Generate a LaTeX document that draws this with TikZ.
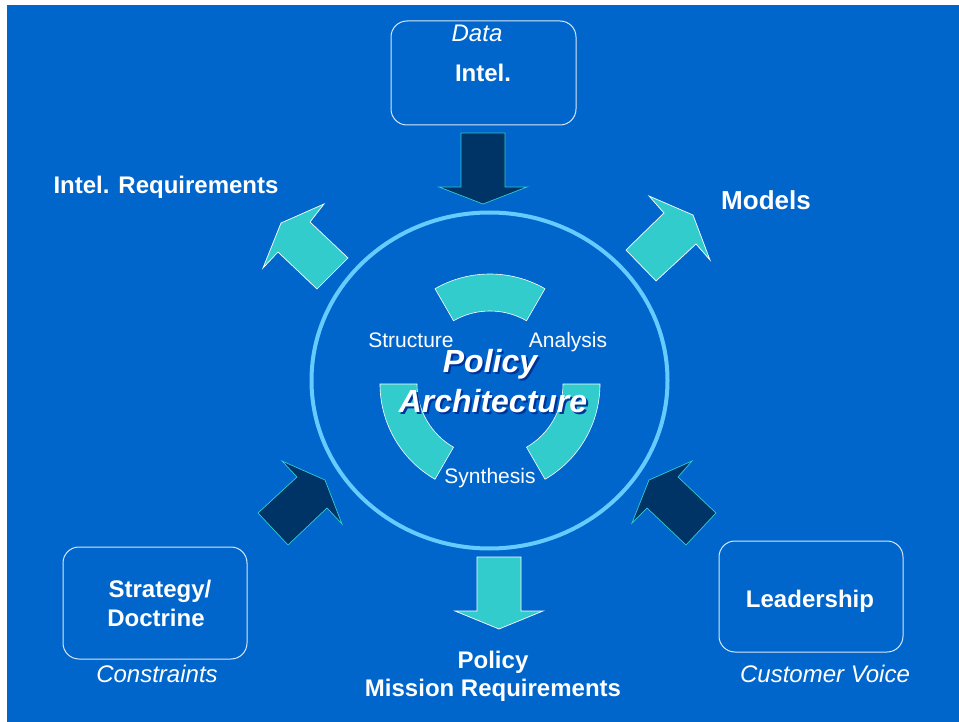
\documentclass[tikz,border=0pt]{standalone}
\usepackage{fontspec}
\setmainfont{Liberation Sans}
\usetikzlibrary{calc}
\definecolor{bg}{HTML}{0066CC}
\definecolor{teal1}{HTML}{33CCCC}
\definecolor{navy1}{HTML}{003366}
\definecolor{ring}{HTML}{66CCFF}
\definecolor{shadowc}{HTML}{003399}
\newcommand{\shtext}[1]{\rlap{\hspace{2pt}\raisebox{-2pt}{\textcolor{shadowc}{#1}}}#1}
\begin{document}
\begin{tikzpicture}[x=1pt,y=-1pt,
  lbl/.style={text=white, font=\fontsize{24}{28}\selectfont\bfseries, anchor=base, inner sep=0pt},
  ilbl/.style={text=white, font=\fontsize{24}{28}\selectfont\itshape, anchor=base, inner sep=0pt},
  slbl/.style={text=white, font=\fontsize{21}{24}\selectfont, anchor=base, inner sep=0pt},
  palbl/.style={text=white, font=\fontsize{32}{36}\selectfont\bfseries\itshape, anchor=base, inner sep=0pt},
  box/.style={draw=white!85!bg, line width=1pt, rounded corners=16pt},
  tarrow/.style={fill=teal1, draw=white, line width=0.7pt},
  darrow/.style={fill=navy1, draw=teal1, line width=0.7pt},
  seg/.style={fill=teal1, draw=white, line width=0.6pt}]
\useasboundingbox (0,0) rectangle (959,722);
\fill[white] (0,0) rectangle (959,722);
\fill[bg] (7,5) rectangle (959,722);

% boxes
\draw[box] (391,21) rectangle (576,125);
\draw[box] (63,547) rectangle (247,659);
\draw[box] (719,541) rectangle (903,652);

% central ring
\coordinate (ringc) at (489.5,380.5);
\draw[ring, line width=4pt] (ringc) ellipse[x radius=178, y radius=168];

% arc segments
\coordinate (C) at (490,384);
\path[seg] ($(C)+(-60:110)$) arc[start angle=-60, end angle=-120, radius=110]
  -- ($(C)+(-120:73)$) arc[start angle=-120, end angle=-60, radius=73] -- cycle;
\path[seg] ($(C)+(120:110)$) arc[start angle=120, end angle=180, radius=110]
  -- ($(C)+(180:73)$) arc[start angle=180, end angle=120, radius=73] -- cycle;
\path[seg] ($(C)+(0:110)$) arc[start angle=0, end angle=60, radius=110]
  -- ($(C)+(60:73)$) arc[start angle=60, end angle=0, radius=73] -- cycle;

% block arrows
\draw[darrow] (461,133) -- (505,133) -- (505,187) -- (527,187) -- (483,204) -- (439,187) -- (461,187) -- cycle;
\draw[tarrow] (477,557) -- (521,557) -- (521,611) -- (543,611) -- (499,629) -- (455,611) -- (477,611) -- cycle;
\draw[tarrow] (281,223) -- (324,204) -- (310,222) -- (348,258) -- (317,289) -- (278,252) -- (263,268) -- cycle;
\draw[tarrow] (649,196) -- (693,215) -- (710,260) -- (696,244) -- (656,281) -- (626,250) -- (664,213) -- cycle;
\draw[darrow] (282,461) -- (325,480) -- (342,524) -- (327,508) -- (288,545) -- (258,513) -- (297,477) -- cycle;
\draw[darrow] (692,461) -- (649,480) -- (632,523) -- (647,508) -- (686,545) -- (716,513) -- (678,477) -- cycle;

% texts
\node[ilbl] (data) at (477,42) {Data};
\node[lbl] (intel) at (483,82) {Intel.};
\node[lbl] (intreq) at (166,194) {Intel. Requirements};
\node[lbl, font=\fontsize{26}{30}\selectfont\bfseries] (models) at (766,210) {Models};
\node[slbl] (structure) at (411,347.5) {Structure};
\node[slbl] (analysis) at (568,347.5) {Analysis};
\node[slbl] (synthesis) at (490,483) {Synthesis};
\node[palbl] (policy) at (490,372) {\shtext{Policy}};
\node[palbl] (arch) at (493,412) {\shtext{Architecture}};
\node[lbl] (strat) at (160,597) {Strategy/};
\node[lbl] (doct) at (156,626) {Doctrine};
\node[ilbl] (constr) at (157,682) {Constraints};
\node[lbl] (lead) at (810,607) {Leadership};
\node[ilbl] (cust) at (825,682) {Customer Voice};
\node[lbl] (pol) at (493,668) {Policy};
\node[lbl] (mreq) at (493,696) {Mission Requirements};
\end{tikzpicture}
\end{document}
